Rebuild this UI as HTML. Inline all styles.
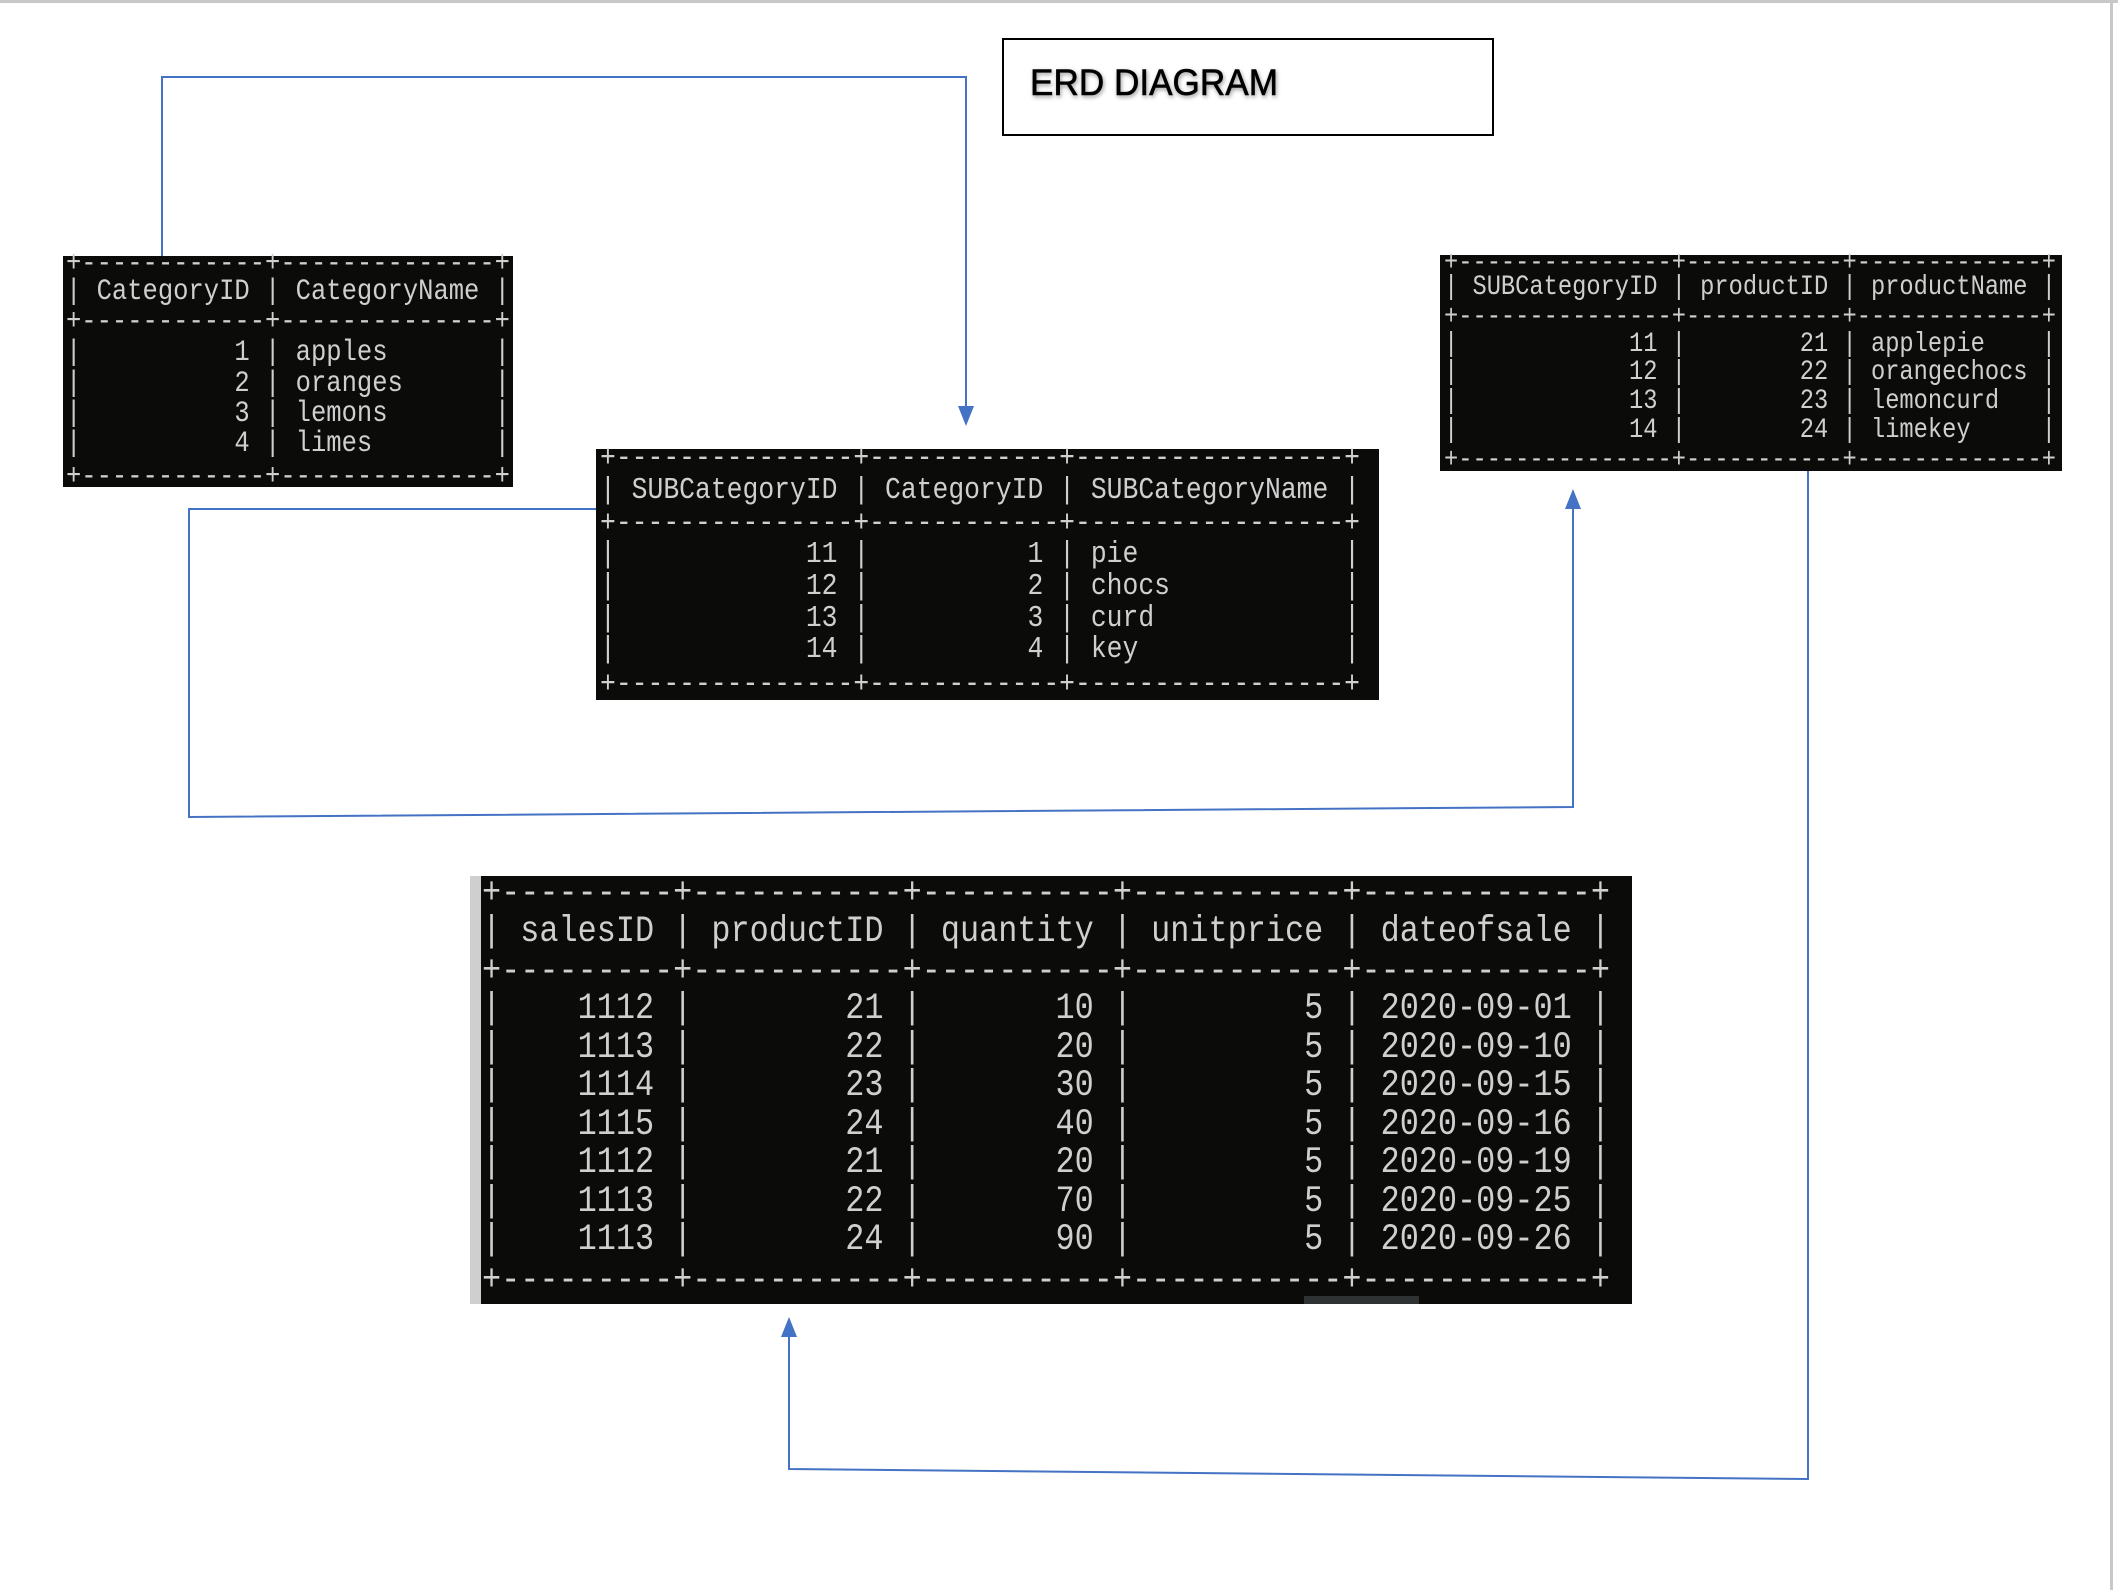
<!DOCTYPE html>
<html><head><meta charset="utf-8"><style>
html,body{margin:0;padding:0;background:#fff;}
svg{display:block}
text{white-space:pre;font-family:"Liberation Mono",monospace;fill:#cfcfcf}
</style></head><body>
<svg width="2118" height="1590" viewBox="0 0 2118 1590" xmlns="http://www.w3.org/2000/svg" xml:space="preserve">
<rect x="0" y="0" width="2118" height="3" fill="#c8c8c8"/>
<rect x="2110" y="0" width="3" height="1590" fill="#c8c8c8"/>

<!-- title -->
<rect x="1003" y="39" width="490" height="96" fill="#fff" stroke="#000" stroke-width="2"/>
<text x="1030" y="95" style="font-family:'Liberation Sans',sans-serif;fill:#000;font-size:37px;stroke:#000;stroke-width:0.6px;filter:drop-shadow(1px 2px 2px rgba(0,0,0,0.4))" textLength="248" lengthAdjust="spacingAndGlyphs">ERD DIAGRAM</text>

<!-- connectors -->
<g fill="none" stroke="#4472c4" stroke-width="2">
<polyline points="162,257 162,77 966,77 966,408"/>
<polyline points="596,509 189,509 189,817 1573,807 1573,505"/>
<polyline points="1808,471 1808,1479 789,1469 789,1334"/>
</g>
<g fill="#4472c4">
<polygon points="958,406 974,406 966,426"/>
<polygon points="1565,509 1581,509 1573,489"/>
<polygon points="781,1337 797,1337 789,1317"/>
</g>

<!-- table 1 -->
<rect x="63" y="256" width="450" height="231" fill="#0b0b0a"/>
<g style="font-size:30px">
<text x="66" y="271" textLength="444" lengthAdjust="spacingAndGlyphs">+------------+--------------+</text>
<text x="66" y="299" textLength="444" lengthAdjust="spacingAndGlyphs">| CategoryID | CategoryName |</text>
<text x="66" y="329" textLength="444" lengthAdjust="spacingAndGlyphs">+------------+--------------+</text>
<text x="66" y="360" textLength="444" lengthAdjust="spacingAndGlyphs">|          1 | apples       |</text>
<text x="66" y="391" textLength="444" lengthAdjust="spacingAndGlyphs">|          2 | oranges      |</text>
<text x="66" y="421" textLength="444" lengthAdjust="spacingAndGlyphs">|          3 | lemons       |</text>
<text x="66" y="451" textLength="444" lengthAdjust="spacingAndGlyphs">|          4 | limes        |</text>
<text x="66" y="484" textLength="444" lengthAdjust="spacingAndGlyphs">+------------+--------------+</text>
</g>

<!-- table 2 -->
<rect x="596" y="449" width="783" height="251" fill="#0b0b0a"/>
<g style="font-size:31px">
<text x="600" y="466" textLength="760" lengthAdjust="spacingAndGlyphs">+---------------+------------+-----------------+</text>
<text x="600" y="498" textLength="760" lengthAdjust="spacingAndGlyphs">| SUBCategoryID | CategoryID | SUBCategoryName |</text>
<text x="600" y="531" textLength="760" lengthAdjust="spacingAndGlyphs">+---------------+------------+-----------------+</text>
<text x="600" y="562" textLength="760" lengthAdjust="spacingAndGlyphs">|            11 |          1 | pie             |</text>
<text x="600" y="594" textLength="760" lengthAdjust="spacingAndGlyphs">|            12 |          2 | chocs           |</text>
<text x="600" y="626" textLength="760" lengthAdjust="spacingAndGlyphs">|            13 |          3 | curd            |</text>
<text x="600" y="657" textLength="760" lengthAdjust="spacingAndGlyphs">|            14 |          4 | key             |</text>
<text x="600" y="692" textLength="760" lengthAdjust="spacingAndGlyphs">+---------------+------------+-----------------+</text>
</g>

<!-- table 3 -->
<rect x="1440" y="255" width="622" height="216" fill="#0b0b0a"/>
<g style="font-size:28px">
<text x="1444" y="270" textLength="612" lengthAdjust="spacingAndGlyphs">+---------------+-----------+-------------+</text>
<text x="1444" y="294" textLength="612" lengthAdjust="spacingAndGlyphs">| SUBCategoryID | productID | productName |</text>
<text x="1444" y="324" textLength="612" lengthAdjust="spacingAndGlyphs">+---------------+-----------+-------------+</text>
<text x="1444" y="351" textLength="612" lengthAdjust="spacingAndGlyphs">|            11 |        21 | applepie    |</text>
<text x="1444" y="379" textLength="612" lengthAdjust="spacingAndGlyphs">|            12 |        22 | orangechocs |</text>
<text x="1444" y="408" textLength="612" lengthAdjust="spacingAndGlyphs">|            13 |        23 | lemoncurd   |</text>
<text x="1444" y="437" textLength="612" lengthAdjust="spacingAndGlyphs">|            14 |        24 | limekey     |</text>
<text x="1444" y="467" textLength="612" lengthAdjust="spacingAndGlyphs">+---------------+-----------+-------------+</text>
</g>

<!-- table 4 -->
<rect x="470" y="876" width="11" height="428" fill="#cfcfcf"/>
<rect x="481" y="876" width="1151" height="428" fill="#0b0b0a"/>
<rect x="1304" y="1296" width="115" height="8" fill="#2e3232"/>
<g style="font-size:37px">
<text x="482" y="903" textLength="1128" lengthAdjust="spacingAndGlyphs">+---------+-----------+----------+-----------+------------+</text>
<text x="482" y="941" textLength="1128" lengthAdjust="spacingAndGlyphs">| salesID | productID | quantity | unitprice | dateofsale |</text>
<text x="482" y="981" textLength="1128" lengthAdjust="spacingAndGlyphs">+---------+-----------+----------+-----------+------------+</text>
<text x="482" y="1018" textLength="1128" lengthAdjust="spacingAndGlyphs">|    1112 |        21 |       10 |         5 | 2020-09-01 |</text>
<text x="482" y="1057" textLength="1128" lengthAdjust="spacingAndGlyphs">|    1113 |        22 |       20 |         5 | 2020-09-10 |</text>
<text x="482" y="1095" textLength="1128" lengthAdjust="spacingAndGlyphs">|    1114 |        23 |       30 |         5 | 2020-09-15 |</text>
<text x="482" y="1134" textLength="1128" lengthAdjust="spacingAndGlyphs">|    1115 |        24 |       40 |         5 | 2020-09-16 |</text>
<text x="482" y="1172" textLength="1128" lengthAdjust="spacingAndGlyphs">|    1112 |        21 |       20 |         5 | 2020-09-19 |</text>
<text x="482" y="1211" textLength="1128" lengthAdjust="spacingAndGlyphs">|    1113 |        22 |       70 |         5 | 2020-09-25 |</text>
<text x="482" y="1249" textLength="1128" lengthAdjust="spacingAndGlyphs">|    1113 |        24 |       90 |         5 | 2020-09-26 |</text>
<text x="482" y="1290" textLength="1128" lengthAdjust="spacingAndGlyphs">+---------+-----------+----------+-----------+------------+</text>
</g>
</svg>
</body></html>
